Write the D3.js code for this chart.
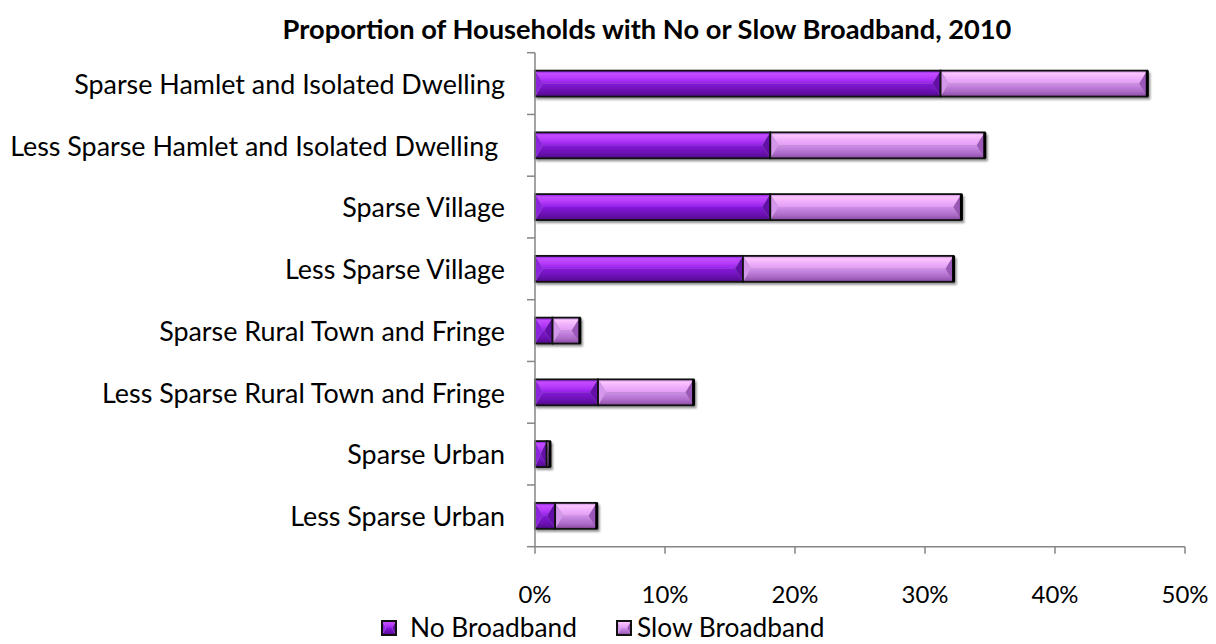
<!DOCTYPE html>
<html>
<head>
<meta charset="utf-8">
<script src="https://cdn.jsdelivr.net/npm/d3@7"></script>
<style>
  body { margin: 0; background: #fff; }
  svg { display: block; }
</style>
</head>
<body>
<svg id="chart" width="1216" height="644"></svg>
<script>
// Area types, top to bottom
const categories = [
  "Sparse Hamlet and Isolated Dwelling",
  "Less Sparse Hamlet and Isolated Dwelling\u00a0",
  "Sparse Village",
  "Less Sparse Village",
  "Sparse Rural Town and Fringe",
  "Less Sparse Rural Town and Fringe",
  "Sparse Urban",
  "Less Sparse Urban"
];
// Share of households (%)
const noBroadband   = [31.2, 18.1, 18.1, 16.0, 1.35, 4.85, 0.9, 1.55];
const slowBroadband = [15.9, 16.5, 14.7, 16.2, 2.1, 7.35, 0.25, 3.2];
const seriesNames = ["No Broadband", "Slow Broadband"];
const xTickValues = [0, 10, 20, 30, 40, 50];
const chartTitle = "Proportion of Households with No or Slow Broadband, 2010";

const FONT = "Lato, 'Open Sans', sans-serif";

// bevel palettes per series: top face stops, bottom face stops, end facets
const palettes = [
  { top: ["#7e18d0", "#c44cff", "#b73cfa", "#9420ea"], bot: ["#8418da", "#6a10b0", "#520a8c"],
    left: "#8c24de", right: "#6410a8" },
  { top: ["#c280dc", "#fbc6ff", "#f0b0fc", "#e19cf4"], bot: ["#cf8ee8", "#ad6cc8", "#8a4aa4"],
    left: "#d497ec", right: "#9c58b8" }
];

const svg = d3.select("#chart");
const defs = svg.append("defs");

const x = d3.scaleLinear().domain([0, 50]).range([535, 1185]);
const y = d3.scaleBand().domain(categories).range([52.7, 546.7])
  .paddingInner(0.58).paddingOuter(0.29);

// gradients
palettes.forEach((p, i) => {
  const gt = defs.append("linearGradient").attr("id", "top" + i)
    .attr("x1", 0).attr("y1", 0).attr("x2", 0).attr("y2", 1);
  [0, 22, 55, 100].forEach((o, k) =>
    gt.append("stop").attr("offset", o + "%").attr("stop-color", p.top[k]));
  const gb = defs.append("linearGradient").attr("id", "bot" + i)
    .attr("x1", 0).attr("y1", 0).attr("x2", 0).attr("y2", 1);
  [0, 60, 100].forEach((o, k) =>
    gb.append("stop").attr("offset", o + "%").attr("stop-color", p.bot[k]));
});
const blur = defs.append("filter").attr("id", "shadowBlur")
  .attr("x", "-10%").attr("y", "-50%").attr("width", "120%").attr("height", "200%");
blur.append("feGaussianBlur").attr("stdDeviation", 1);

// stacked layout
const rows = categories.map((c, i) => ({ cat: c, no: noBroadband[i], slow: slowBroadband[i] }));
const stack = d3.stack().keys(["no", "slow"])(rows);

// title
const title = svg.append("text")
  .attr("x", 647).attr("y", 39)
  .attr("text-anchor", "middle")
  .style("font-family", FONT).style("font-weight", "bold").style("font-size", "20px")
  .attr("fill", "#000")
  .text(chartTitle);
{
  const w = title.node().getComputedTextLength();
  title.style("font-size", (20 * 729 / w) + "px");
}

// shadows under each whole bar
const barG = svg.append("g");
barG.selectAll("rect.shadow").data(rows).join("rect")
  .attr("class", "shadow")
  .attr("x", x(0) + 1)
  .attr("y", d => y(d.cat) + 2)
  .attr("width", d => x(d.no + d.slow) - x(0) + 2)
  .attr("height", y.bandwidth() + 1)
  .attr("fill", "#6e6e6e").attr("opacity", 0.75)
  .attr("filter", "url(#shadowBlur)");

// bevelled segments
const pts = a => a.map(p => p.join(",")).join(" ");
function bevel(g, x0, y0, w, h, si, b, sw) {
  const x1 = x0 + w, y1 = y0 + h, ym = y0 + h / 2;
  g.append("polygon").attr("points", pts([[x0, y0], [x1, y0], [x1 - b, ym], [x0 + b, ym]]))
    .attr("fill", `url(#top${si})`);
  g.append("polygon").attr("points", pts([[x0, y1], [x1, y1], [x1 - b, ym], [x0 + b, ym]]))
    .attr("fill", `url(#bot${si})`);
  g.append("polygon").attr("points", pts([[x0, y0], [x0 + b, ym], [x0, y1]]))
    .attr("fill", palettes[si].left);
  g.append("polygon").attr("points", pts([[x1, y0], [x1 - b, ym], [x1, y1]]))
    .attr("fill", palettes[si].right);
  g.append("rect").attr("x", x0).attr("y", y0).attr("width", w).attr("height", h)
    .attr("fill", "none").attr("stroke", "#111").attr("stroke-width", sw);
}
stack.forEach((layer, si) => {
  const g = barG.append("g");
  layer.forEach(seg => {
    const x0 = x(seg[0]), w = x(seg[1]) - x0;
    if (w <= 0) return;
    bevel(g, x0, y(seg.data.cat), w, y.bandwidth(), si, Math.min(8, w / 2), 1.8);
  });
});
// heavier outer end of each bar
barG.selectAll("line.end").data(rows).join("line")
  .attr("x1", d => x(d.no + d.slow)).attr("x2", d => x(d.no + d.slow))
  .attr("y1", d => y(d.cat)).attr("y2", d => y(d.cat) + y.bandwidth())
  .attr("stroke", "#000").attr("stroke-width", 3);

// axes
const axisColor = "#868686";
const yAxis = svg.append("g").attr("transform", `translate(${x(0)},0)`);
yAxis.append("line").attr("x1", 0).attr("x2", 0).attr("y1", 52.7).attr("y2", 546.7)
  .attr("stroke", axisColor).attr("stroke-width", 1.5);
const bounds = categories.map(c => y(c) - y.step() * y.paddingInner() / 2).concat([546.7]);
bounds[0] = 52.7;
yAxis.selectAll("line.tick").data(bounds).join("line").attr("class", "tick")
  .attr("x1", -8).attr("x2", 0).attr("y1", d => d).attr("y2", d => d)
  .attr("stroke", axisColor).attr("stroke-width", 1.5);

const xAxis = svg.append("g").attr("transform", `translate(0,546.7)`);
xAxis.append("line").attr("x1", x(0)).attr("x2", x(50)).attr("y1", 0).attr("y2", 0)
  .attr("stroke", axisColor).attr("stroke-width", 1.5);
xAxis.selectAll("line.tick").data(xTickValues).join("line").attr("class", "tick")
  .attr("x1", d => x(d)).attr("x2", d => x(d)).attr("y1", 0).attr("y2", 7)
  .attr("stroke", axisColor).attr("stroke-width", 1.5);
const tickLabels = svg.append("g").selectAll("text").data(xTickValues).join("text")
  .attr("x", d => x(d)).attr("y", 603)
  .attr("text-anchor", "middle")
  .style("font-family", FONT).style("font-size", "20px").attr("fill", "#000")
  .text(d => d + "%");
{
  const ref = tickLabels.filter(d => d === 50).node().getComputedTextLength();
  tickLabels.style("font-size", (20 * 47 / ref) + "px");
}

// category labels
const catLabels = svg.append("g").selectAll("text").data(categories).join("text")
  .attr("x", 505)
  .attr("y", d => y(d) + y.bandwidth() / 2)
  .attr("dy", "0.38em")
  .attr("text-anchor", "end")
  .style("font-family", FONT).style("font-size", "20px").attr("fill", "#000")
  .text(d => d);
{
  const ref = catLabels.filter((d, i) => i === 0).node().getComputedTextLength();
  catLabels.style("font-size", (20 * 431 / ref) + "px");
}

// legend
const legendX = [382, 617];
const legend = svg.append("g");
let legendFs = 20;
seriesNames.forEach((name, i) => {
  const gx = legendX[i], gy = 621, s = 14;
  const g = legend.append("g");
  bevel(g, gx, gy, s, s, i, 4, 2);
  const t = g.append("text").attr("x", gx + (i === 0 ? 28 : 20)).attr("y", 637)
    .style("font-family", FONT).style("font-size", "20px").attr("fill", "#000")
    .text(name);
  if (i === 0) legendFs = 20 * 167 / t.node().getComputedTextLength();
});
legend.selectAll("text").style("font-size", legendFs + "px");
</script>
</body>
</html>
